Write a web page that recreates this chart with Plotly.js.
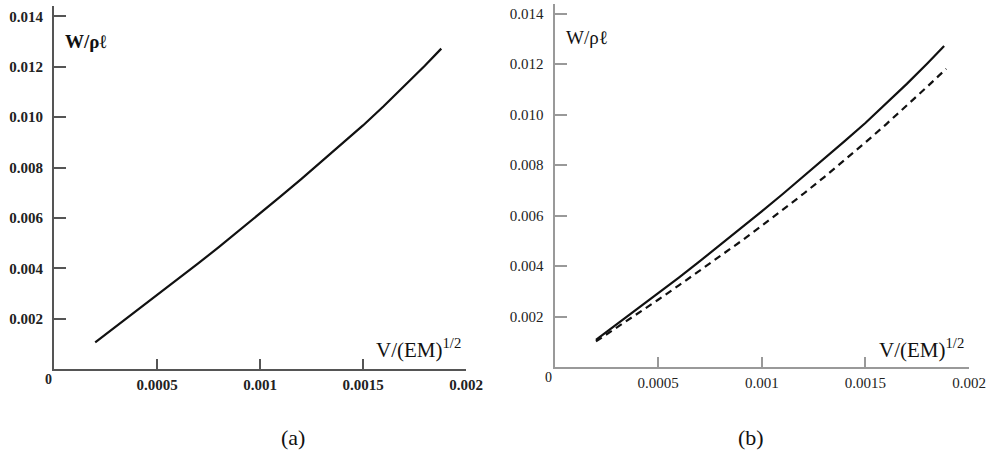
<!DOCTYPE html>
<html>
<head>
<meta charset="utf-8">
<script src="https://cdn.plot.ly/plotly-3.0.1.min.js"></script>
<style>html,body{margin:0;padding:0;background:#fff;}#chart{width:992px;height:457px;}</style>
</head>
<body>
<div id="chart"></div>
<script>
// Data
const velocity = [0.0002, 0.0003, 0.0004, 0.0005, 0.0006, 0.0007, 0.0008, 0.0009, 0.001,
  0.0011, 0.0012, 0.0013, 0.0014, 0.0015, 0.0016, 0.0017, 0.0018, 0.00188];
const workSolidA = [0.00106, 0.00168, 0.0023, 0.00292, 0.00355, 0.00419, 0.00484, 0.0055, 0.00617,
  0.00685, 0.00754, 0.00824, 0.00895, 0.00967, 0.01043, 0.01122, 0.01204, 0.01272];
const workSolidB = [0.00108, 0.00169, 0.0023, 0.00292, 0.00355, 0.00419, 0.00484, 0.0055, 0.00617,
  0.00685, 0.00754, 0.00824, 0.00895, 0.00967, 0.01043, 0.01122, 0.01204, 0.01272];
const velocityDashed = [0.0002, 0.0003, 0.0004, 0.0005, 0.0006, 0.0007, 0.0008, 0.0009, 0.001,
  0.0011, 0.0012, 0.0013, 0.0014, 0.0015, 0.0016, 0.0017, 0.0018, 0.00189];
const workDashedB = [0.00102, 0.00156, 0.00211, 0.00267, 0.00324, 0.00382, 0.0044, 0.00499, 0.0056,
  0.00622, 0.00686, 0.00752, 0.0082, 0.0089, 0.00962, 0.01036, 0.01112, 0.01182];
const xTickVals = [0.0005, 0.001, 0.0015, 0.002];
const xTickText = ['0.0005', '0.001', '0.0015', '0.002'];
const yTickVals = [0.002, 0.004, 0.006, 0.008, 0.010, 0.012, 0.014];
const yTickText = ['0.002', '0.004', '0.006', '0.008', '0.010', '0.012', '0.014'];
const yLabel = 'W/ρℓ';
const xLabel = 'V/(EM)<sup>1/2</sup>';
const captions = ['(a)', '(b)'];

const W = 992, H = 457;
const serif = "'Liberation Serif', 'Times New Roman', serif";

function xaxisDef(px0, px1, color, bold) {
  return {
    domain: [px0 / W, px1 / W], range: [0, 0.002], showgrid: false, zeroline: false,
    showline: true, linecolor: color, linewidth: 2,
    ticks: 'inside', ticklen: 10, tickwidth: 2, tickcolor: color,
    tickvals: xTickVals, ticktext: xTickText, ticklabelstandoff: 1,
    tickfont: {family: serif, size: 15, color: '#222', weight: bold ? 'bold' : 'normal'}
  };
}
function yaxisDef(py0, py1, color, bold, anchor) {
  return {
    domain: [(H - py0) / H, (H - py1) / H], range: [0, 0.0144], showgrid: false, zeroline: false,
    showline: true, linecolor: color, linewidth: 2, anchor: anchor,
    ticks: 'inside', ticklen: 12, tickwidth: 2, tickcolor: color,
    tickvals: yTickVals, ticktext: yTickText, ticklabelstandoff: 6,
    tickfont: {family: serif, size: 15, color: '#222', weight: bold ? 'bold' : 'normal'}
  };
}

const traces = [
  {x: velocity, y: workSolidA, xaxis: 'x', yaxis: 'y', mode: 'lines',
   line: {color: '#111', width: 2.2}, hoverinfo: 'skip'},
  {x: velocity, y: workSolidB, xaxis: 'x2', yaxis: 'y2', mode: 'lines',
   line: {color: '#111', width: 2.2}, hoverinfo: 'skip'},
  {x: velocityDashed, y: workDashedB, xaxis: 'x2', yaxis: 'y2', mode: 'lines',
   line: {color: '#111', width: 2.2, dash: '7px,5px'}, hoverinfo: 'skip'}
];

function ann(text, x, y, size, extra) {
  return Object.assign({text: text, xref: 'paper', yref: 'paper', x: x / W, y: 1 - y / H,
    xanchor: 'center', yanchor: 'middle',
    showarrow: false, font: {family: serif, size: size, color: '#111'}}, extra || {});
}

const layout = {
  width: W, height: H, margin: {l: 0, r: 0, t: 0, b: 0},
  paper_bgcolor: '#fff', plot_bgcolor: 'rgba(0,0,0,0)', showlegend: false,
  xaxis: xaxisDef(54, 466, '#555', true),
  yaxis: yaxisDef(369, 6.3, '#555', true, 'x'),
  xaxis2: Object.assign(xaxisDef(554.5, 969, '#999', false), {anchor: 'y2'}),
  yaxis2: yaxisDef(367.2, 3.6, '#999', false, 'x2'),
  annotations: [
    ann(yLabel, 86, 42, 19, {font: {family: serif, size: 19, color: '#111', weight: 'bold'}}),
    ann(yLabel, 587, 38, 19),
    ann(xLabel, 418, 348, 21),
    ann(xLabel, 921, 348, 21),
    ann('0', 48, 379, 14, {font: {family: serif, size: 14, color: '#222', weight: 'bold'}}),
    ann('0', 548, 377, 14),
    ann(captions[0], 293, 437, 22),
    ann(captions[1], 751, 437, 22)
  ]
};

Plotly.newPlot('chart', traces, layout, {staticPlot: true, displayModeBar: false});
</script>
</body>
</html>
